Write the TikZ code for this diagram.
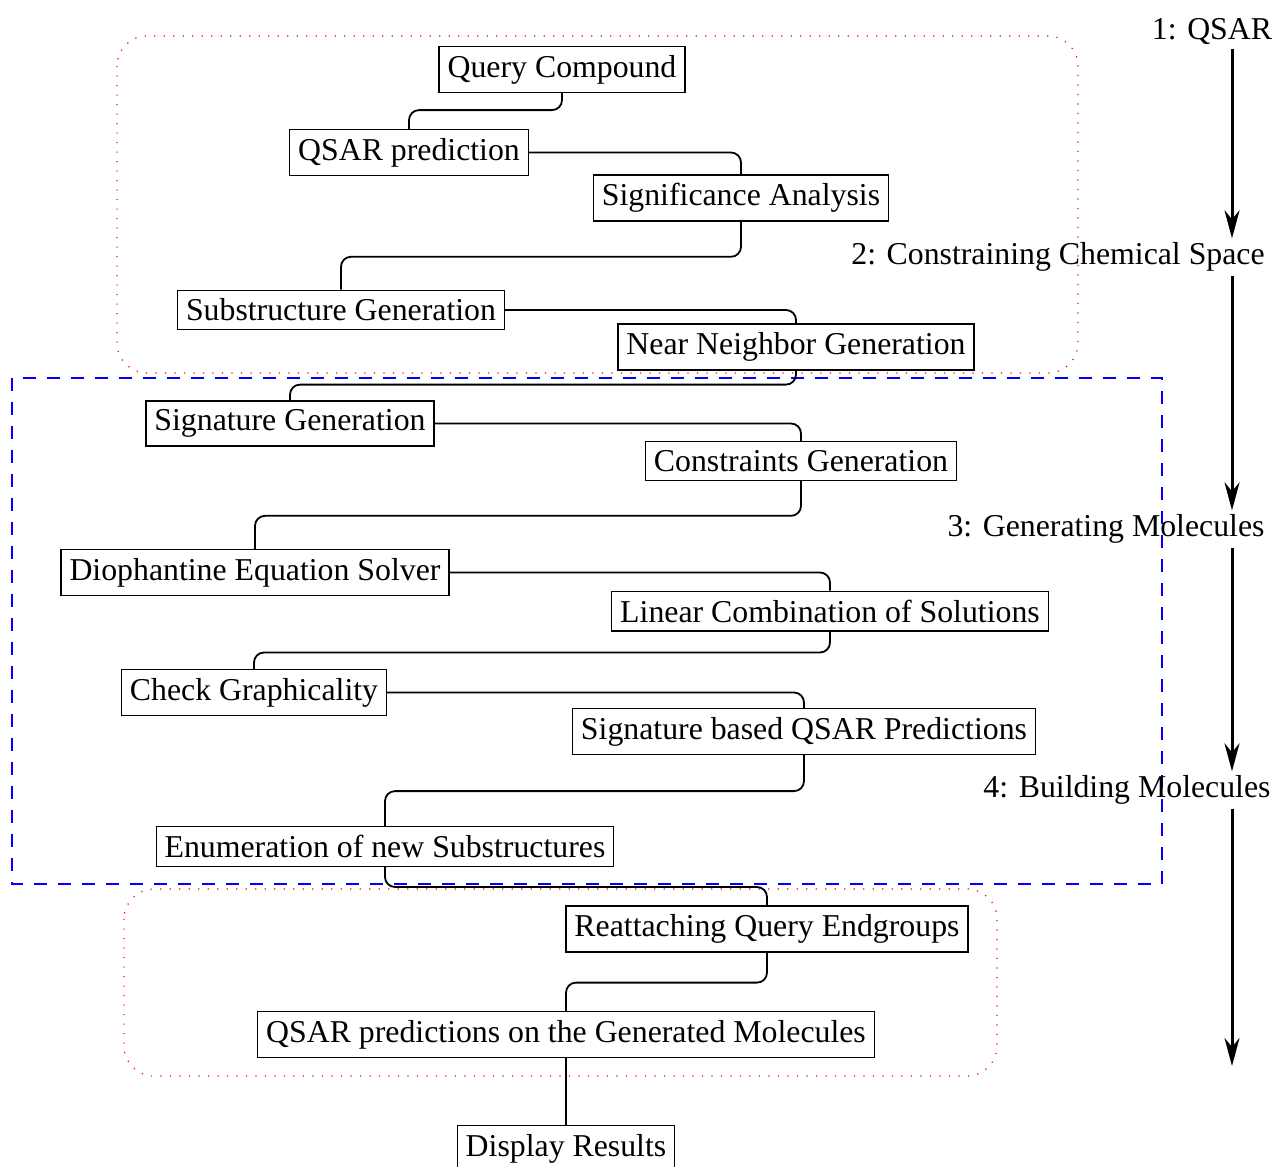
\documentclass[tikz,border=0pt]{standalone}
\usepackage{fontspec}
\setmainfont{Liberation Serif}
\usetikzlibrary{arrows.meta,calc}
\begin{document}
\begin{tikzpicture}[x=1pt,y=-1pt,
  box/.style={draw,line width=1.3pt,inner xsep=8.5pt,inner ysep=8.5pt,font=\fontsize{31.8}{38}\selectfont},
  lab/.style={inner sep=4pt,font=\fontsize{31.8}{38}\selectfont},
  link/.style={line width=1.8pt,rounded corners=10pt},
  stage/.style={line width=3pt,-{Stealth[length=28pt,width=15pt,inset=9pt]}},
  redclus/.style={draw=red,line width=1.2pt,dash pattern=on 1.2pt off 8.3pt,rounded corners=30pt},
  blueclus/.style={draw=blue,line width=1.3pt,dash pattern=on 13pt off 11pt}]
\useasboundingbox (0,0) rectangle (1275,1167);
% clusters
\draw[redclus] (117,36) rectangle (1078,373);
\draw[blueclus] (12,378) rectangle (1162,884);
\draw[redclus] (124,889) rectangle (997,1076);
% nodes
\node[box] (qc) at (562,69.5) {Query Compound};
\node[box] (qp) at (409,152.5) {QSAR prediction};
\node[box] (sa) at (741,198) {Significance Analysis};
\node[box] (sg) at (341,310) {Substructure Generation};
\node[box] (nn) at (796,347) {Near Neighbor Generation};
\node[box] (sig) at (290,423.5) {Signature Generation};
\node[box] (cg) at (801,461) {Constraints Generation};
\node[box] (ds) at (255,572.5) {Diophantine Equation Solver};
\node[box] (lc) at (830,611) {Linear Combination of Solutions};
\node[box] (cgr) at (254,692.5) {Check Graphicality};
\node[box] (sq) at (804,731.5) {Signature based QSAR Predictions};
\node[box] (en) at (385,846.5) {Enumeration of new Substructures};
\node[box] (rq) at (767,929) {Reattaching Query Endgroups};
\node[box] (qg) at (566,1034.5) {QSAR predictions on the Generated Molecules};
\node[box] (dr) at (566,1148.5) {Display Results};
% links
\draw[link] (qc.south) -- ++(0,17) -| (qp.north);
\draw[link] (qp.east) -| (sa.north);
\draw[link] (sa.south) -- ++(0,35) -| (sg.north);
\draw[link] (sg.east) -| (nn.north);
\draw[link] (nn.south) -- ++(0,14) -| (sig.north);
\draw[link] (sig.east) -| (cg.north);
\draw[link] (cg.south) -- ++(0,35) -| (ds.north);
\draw[link] (ds.east) -| (lc.north);
\draw[link] (lc.south) -- ++(0,21) -| (cgr.north);
\draw[link] (cgr.east) -| (sq.north);
\draw[link] (sq.south) -- ++(0,36) -| (en.north);
\draw[link] (en.south) -- ++(0,20) -| (rq.north);
\draw[link] (rq.south) -- ++(0,30) -| (qg.north);
\draw[link] (qg.south) -- (dr.north);
% stages
\node[lab] (s1) at (1212,32) {1: QSAR};
\node[lab] (s2) at (1058,257) {2: Constraining Chemical Space};
\node[lab] (s3) at (1106,529) {3: Generating Molecules};
\node[lab] (s4) at (1127,790) {4: Building Molecules};
\coordinate (axis) at (1232,0);
\coordinate (stend) at (1232,1066);
\draw[stage] (s1.south -| axis) -- (s2.north -| axis);
\draw[stage] (s2.south -| axis) -- (s3.north -| axis);
\draw[stage] (s3.south -| axis) -- (s4.north -| axis);
\draw[stage] (s4.south -| axis) -- (stend);
\end{tikzpicture}
\end{document}
